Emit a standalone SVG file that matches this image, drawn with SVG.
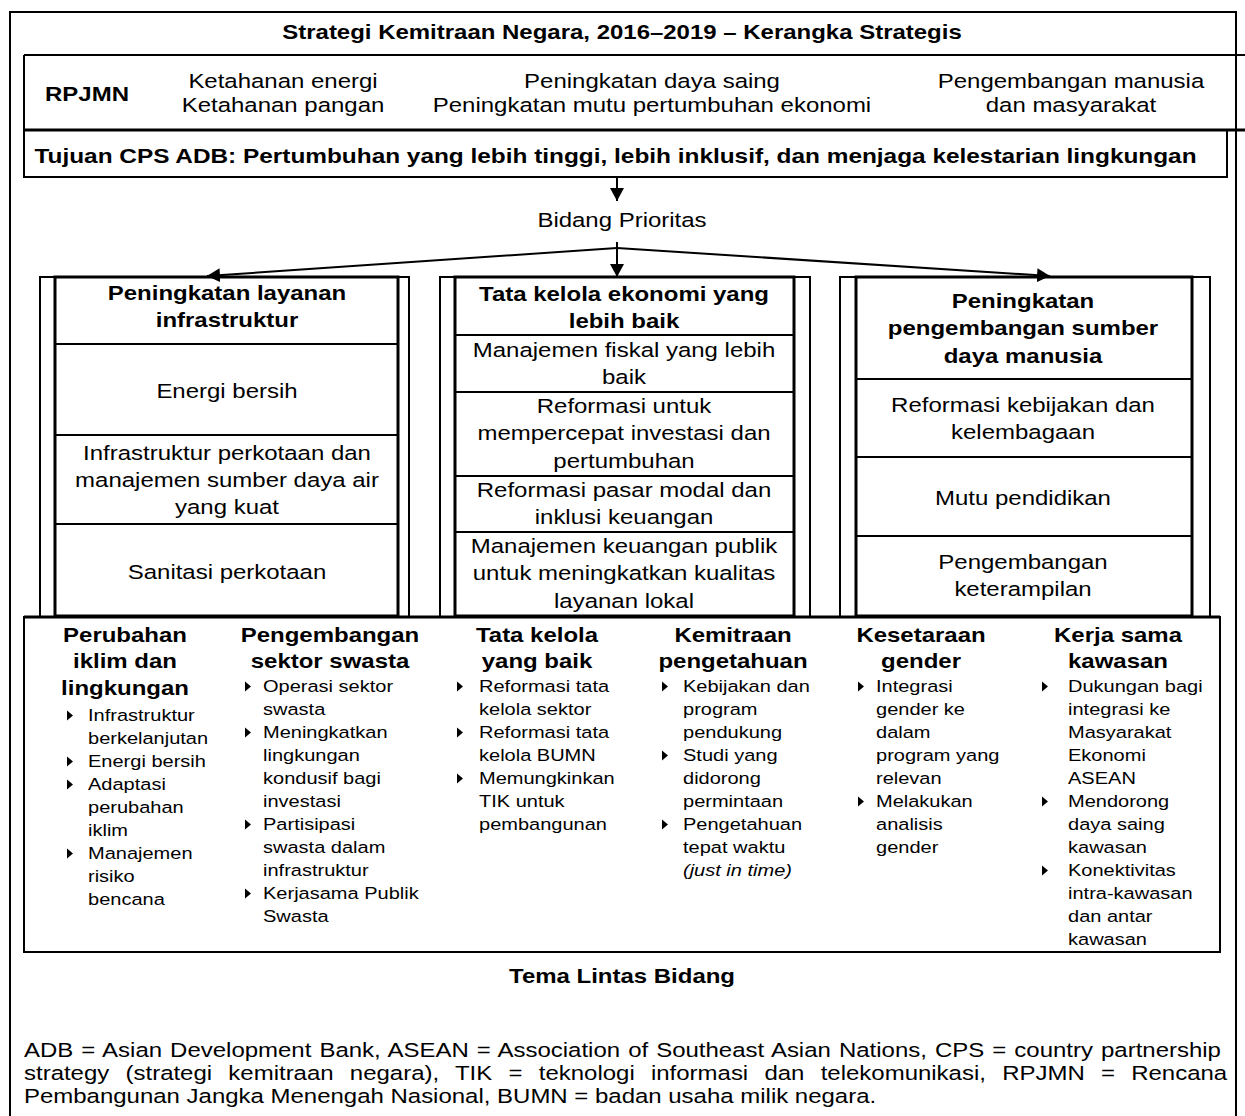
<svg xmlns="http://www.w3.org/2000/svg" xmlns:xlink="http://www.w3.org/1999/xlink" width="1245" height="1116" viewBox="0 0 1245 1116">
<style>
text { font-family: "Liberation Sans", Arial, Helvetica, sans-serif; font-size: 20.5px; fill: #000; }
.c { text-anchor: middle; }
.b { font-weight: bold; }
.sm { font-size: 17.1px; }
.it { font-style: italic; }
.ln { fill: none; stroke: #000; stroke-width: 2; }
.thk { stroke-width: 3; }
.con { fill: none; stroke: #000; stroke-width: 2; }
</style>
<defs>
<marker id="ah" markerUnits="userSpaceOnUse" markerWidth="14" markerHeight="14" refX="13" refY="7" orient="auto">
<path d="M0,0 L13,7 L0,14 Z" fill="#000"/>
</marker>
<path id="tri" d="M0,-5 L6,0 L0,5 Z" fill="#000"/>
</defs>
<rect width="1245" height="1116" fill="#fff"/>

<g id="outer-frame">
<path class="ln" d="M10,1118 V12 H1236 V1118"/>
</g>

<g id="title">
<text class="c b" transform="translate(622,39) scale(1.17,1)">Strategi Kemitraan Negara, 2016–2019 – Kerangka Strategis</text>
</g>

<g id="rpjmn">
<path class="ln" d="M24,55 H1245"/>
<path class="ln" d="M24,55 V130"/>
<path class="ln thk" d="M24,130 H1245"/>
<text class="c b" transform="translate(87,101) scale(1.17,1)">RPJMN</text>
<text class="c" transform="translate(283,88) scale(1.17,1)"><tspan x="0">Ketahanan energi</tspan><tspan x="0" dy="24">Ketahanan pangan</tspan></text>
<text class="c" transform="translate(652,88) scale(1.17,1)"><tspan x="0">Peningkatan daya saing</tspan><tspan x="0" dy="24">Peningkatan mutu pertumbuhan ekonomi</tspan></text>
<text class="c" transform="translate(1071,88) scale(1.17,1)"><tspan x="0">Pengembangan manusia</tspan><tspan x="0" dy="24">dan masyarakat</tspan></text>
</g>

<g id="cps-goal">
<rect class="ln" x="24" y="130" width="1203" height="47"/>
<text class="c b" transform="translate(615.5,163) scale(1.19,1)">Tujuan CPS ADB: Pertumbuhan yang lebih tinggi, lebih inklusif, dan menjaga kelestarian lingkungan</text>
</g>

<g id="bidang-prioritas">
<text class="c" transform="translate(622,227) scale(1.17,1)">Bidang Prioritas</text>
</g>

<g id="col-infrastruktur">
<rect class="ln" x="40" y="277" width="369" height="340"/>
<rect class="ln thk" x="55" y="277" width="343" height="339"/>
<path class="ln" d="M55,344 H398 M55,435 H398 M55,524 H398"/>
<text class="c b" transform="translate(227,300) scale(1.17,1)"><tspan x="0">Peningkatan layanan</tspan><tspan x="0" dy="27.5">infrastruktur</tspan></text>
<text class="c" transform="translate(227,398) scale(1.17,1)">Energi bersih</text>
<text class="c" transform="translate(227,460) scale(1.17,1)"><tspan x="0">Infrastruktur perkotaan dan</tspan><tspan x="0" dy="27">manajemen sumber daya air</tspan><tspan x="0" dy="27">yang kuat</tspan></text>
<text class="c" transform="translate(227,579) scale(1.17,1)">Sanitasi perkotaan</text>
</g>

<g id="col-tata-kelola">
<rect class="ln" x="440" y="277" width="370" height="340"/>
<rect class="ln thk" x="455" y="277" width="339" height="339"/>
<path class="ln" d="M455,335 H794 M455,392 H794 M455,476 H794 M455,532 H794"/>
<text class="c b" transform="translate(624,301) scale(1.17,1)"><tspan x="0">Tata kelola ekonomi yang</tspan><tspan x="0" dy="27.5">lebih baik</tspan></text>
<text class="c" transform="translate(624,357) scale(1.17,1)"><tspan x="0">Manajemen fiskal yang lebih</tspan><tspan x="0" dy="27.5">baik</tspan></text>
<text class="c" transform="translate(624,413) scale(1.17,1)"><tspan x="0">Reformasi untuk</tspan><tspan x="0" dy="27.5">mempercepat investasi dan</tspan><tspan x="0" dy="27.5">pertumbuhan</tspan></text>
<text class="c" transform="translate(624,497) scale(1.17,1)"><tspan x="0">Reformasi pasar modal dan</tspan><tspan x="0" dy="27.5">inklusi keuangan</tspan></text>
<text class="c" transform="translate(624,553) scale(1.17,1)"><tspan x="0">Manajemen keuangan publik</tspan><tspan x="0" dy="27.5">untuk meningkatkan kualitas</tspan><tspan x="0" dy="27.5">layanan lokal</tspan></text>
</g>

<g id="col-sdm">
<rect class="ln" x="840" y="277" width="370" height="340"/>
<rect class="ln thk" x="856" y="277" width="336" height="339"/>
<path class="ln" d="M856,379 H1192 M856,457 H1192 M856,536 H1192"/>
<text class="c b" transform="translate(1023,308) scale(1.17,1)"><tspan x="0">Peningkatan</tspan><tspan x="0" dy="27.5">pengembangan sumber</tspan><tspan x="0" dy="27.5">daya manusia</tspan></text>
<text class="c" transform="translate(1023,412) scale(1.17,1)"><tspan x="0">Reformasi kebijakan dan</tspan><tspan x="0" dy="27.5">kelembagaan</tspan></text>
<text class="c" transform="translate(1023,505) scale(1.17,1)">Mutu pendidikan</text>
<text class="c" transform="translate(1023,569) scale(1.17,1)"><tspan x="0">Pengembangan</tspan><tspan x="0" dy="27.5">keterampilan</tspan></text>
</g>

<g id="themes">
<rect class="ln" x="24" y="617" width="1196" height="335"/>
<path class="ln thk" d="M24,617 H1220"/>
<g id="theme-iklim">
<text class="c b" transform="translate(125,642) scale(1.17,1)"><tspan x="0">Perubahan</tspan><tspan x="0" dy="26.5">iklim dan</tspan><tspan x="0" dy="26.5">lingkungan</tspan></text>
<use xlink:href="#tri" x="67" y="715.5"/>
<use xlink:href="#tri" x="67" y="761.5"/>
<use xlink:href="#tri" x="67" y="784.5"/>
<use xlink:href="#tri" x="67" y="853.5"/>
<text class="sm" transform="translate(88,721) scale(1.17,1)"><tspan x="0">Infrastruktur</tspan><tspan x="0" dy="23">berkelanjutan</tspan><tspan x="0" dy="23">Energi bersih</tspan><tspan x="0" dy="23">Adaptasi</tspan><tspan x="0" dy="23">perubahan</tspan><tspan x="0" dy="23">iklim</tspan><tspan x="0" dy="23">Manajemen</tspan><tspan x="0" dy="23">risiko</tspan><tspan x="0" dy="23">bencana</tspan></text>
</g>
<g id="theme-swasta">
<text class="c b" transform="translate(330,642) scale(1.17,1)"><tspan x="0">Pengembangan</tspan><tspan x="0" dy="26.5">sektor swasta</tspan></text>
<use xlink:href="#tri" x="245" y="686.5"/>
<use xlink:href="#tri" x="245" y="732.5"/>
<use xlink:href="#tri" x="245" y="824.5"/>
<use xlink:href="#tri" x="245" y="893.5"/>
<text class="sm" transform="translate(263,692) scale(1.17,1)"><tspan x="0">Operasi sektor</tspan><tspan x="0" dy="23">swasta</tspan><tspan x="0" dy="23">Meningkatkan</tspan><tspan x="0" dy="23">lingkungan</tspan><tspan x="0" dy="23">kondusif bagi</tspan><tspan x="0" dy="23">investasi</tspan><tspan x="0" dy="23">Partisipasi</tspan><tspan x="0" dy="23">swasta dalam</tspan><tspan x="0" dy="23">infrastruktur</tspan><tspan x="0" dy="23">Kerjasama Publik</tspan><tspan x="0" dy="23">Swasta</tspan></text>
</g>
<g id="theme-tata-kelola">
<text class="c b" transform="translate(537,642) scale(1.17,1)"><tspan x="0">Tata kelola</tspan><tspan x="0" dy="26.5">yang baik</tspan></text>
<use xlink:href="#tri" x="457" y="686.5"/>
<use xlink:href="#tri" x="457" y="732.5"/>
<use xlink:href="#tri" x="457" y="778.5"/>
<text class="sm" transform="translate(479,692) scale(1.17,1)"><tspan x="0">Reformasi tata</tspan><tspan x="0" dy="23">kelola sektor</tspan><tspan x="0" dy="23">Reformasi tata</tspan><tspan x="0" dy="23">kelola BUMN</tspan><tspan x="0" dy="23">Memungkinkan</tspan><tspan x="0" dy="23">TIK untuk</tspan><tspan x="0" dy="23">pembangunan</tspan></text>
</g>
<g id="theme-pengetahuan">
<text class="c b" transform="translate(733,642) scale(1.17,1)"><tspan x="0">Kemitraan</tspan><tspan x="0" dy="26.5">pengetahuan</tspan></text>
<use xlink:href="#tri" x="662" y="686.5"/>
<use xlink:href="#tri" x="662" y="755.5"/>
<use xlink:href="#tri" x="662" y="824.5"/>
<text class="sm" transform="translate(683,692) scale(1.17,1)"><tspan x="0">Kebijakan dan</tspan><tspan x="0" dy="23">program</tspan><tspan x="0" dy="23">pendukung</tspan><tspan x="0" dy="23">Studi yang</tspan><tspan x="0" dy="23">didorong</tspan><tspan x="0" dy="23">permintaan</tspan><tspan x="0" dy="23">Pengetahuan</tspan><tspan x="0" dy="23">tepat waktu</tspan><tspan x="0" dy="23" class="it">(just in time)</tspan></text>
</g>
<g id="theme-gender">
<text class="c b" transform="translate(921,642) scale(1.17,1)"><tspan x="0">Kesetaraan</tspan><tspan x="0" dy="26.5">gender</tspan></text>
<use xlink:href="#tri" x="858" y="686.5"/>
<use xlink:href="#tri" x="858" y="801.5"/>
<text class="sm" transform="translate(876,692) scale(1.17,1)"><tspan x="0">Integrasi</tspan><tspan x="0" dy="23">gender ke</tspan><tspan x="0" dy="23">dalam</tspan><tspan x="0" dy="23">program yang</tspan><tspan x="0" dy="23">relevan</tspan><tspan x="0" dy="23">Melakukan</tspan><tspan x="0" dy="23">analisis</tspan><tspan x="0" dy="23">gender</tspan></text>
</g>
<g id="theme-kawasan">
<text class="c b" transform="translate(1118,642) scale(1.17,1)"><tspan x="0">Kerja sama</tspan><tspan x="0" dy="26.5">kawasan</tspan></text>
<use xlink:href="#tri" x="1042" y="686.5"/>
<use xlink:href="#tri" x="1042" y="801.5"/>
<use xlink:href="#tri" x="1042" y="870.5"/>
<text class="sm" transform="translate(1068,692) scale(1.17,1)"><tspan x="0">Dukungan bagi</tspan><tspan x="0" dy="23">integrasi ke</tspan><tspan x="0" dy="23">Masyarakat</tspan><tspan x="0" dy="23">Ekonomi</tspan><tspan x="0" dy="23">ASEAN</tspan><tspan x="0" dy="23">Mendorong</tspan><tspan x="0" dy="23">daya saing</tspan><tspan x="0" dy="23">kawasan</tspan><tspan x="0" dy="23">Konektivitas</tspan><tspan x="0" dy="23">intra-kawasan</tspan><tspan x="0" dy="23">dan antar</tspan><tspan x="0" dy="23">kawasan</tspan></text>
</g>
</g>

<g id="tema-lintas-bidang">
<text class="c b" transform="translate(622,983) scale(1.17,1)">Tema Lintas Bidang</text>
</g>

<g id="footnote">
<text transform="translate(24,1057) scale(1.17,1)" word-spacing="1.2">ADB = Asian Development Bank, ASEAN = Association of Southeast Asian Nations, CPS = country partnership</text>
<text transform="translate(24,1080) scale(1.17,1)" word-spacing="8.2">strategy (strategi kemitraan negara), TIK = teknologi informasi dan telekomunikasi, RPJMN = Rencana</text>
<text transform="translate(24,1103) scale(1.17,1)">Pembangunan Jangka Menengah Nasional, BUMN = badan usaha milik negara.</text>
</g>

<g id="connectors">
<path class="con" d="M617,177 V201" marker-end="url(#ah)"/>
<path class="con" d="M617,242 V277" marker-end="url(#ah)"/>
<path class="con" d="M617,248 L207,276" marker-end="url(#ah)"/>
<path class="con" d="M617,248 L1050,276" marker-end="url(#ah)"/>
</g>
</svg>
